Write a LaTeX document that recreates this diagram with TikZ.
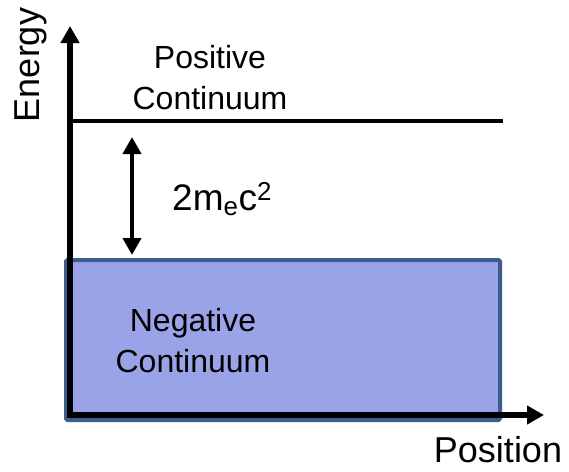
\documentclass[tikz,border=0pt]{standalone}
\usepackage{fontspec}
\setmainfont{Liberation Sans}
\usetikzlibrary{arrows.meta}
\definecolor{negfill}{RGB}{154,163,232}
\definecolor{negedge}{RGB}{60,94,140}

\begin{document}
\begin{tikzpicture}[x=1pt,y=-1pt,
  lbl/.style={font=\fontsize{32}{41}\selectfont,align=center,inner sep=0pt},
  axlbl/.style={font=\fontsize{36}{40}\selectfont,inner sep=0pt},
  tip/.style={-{Triangle[length=17pt,width=18pt]}}]
 \useasboundingbox (0,0) rectangle (569,471);
 \coordinate (o) at (70,415); \coordinate (ytip) at (70,26); \coordinate (xtip) at (544,415);
 \coordinate (pl) at (70,121); \coordinate (pr) at (503,121);
 \coordinate (gtop) at (132,137); \coordinate (gbot) at (132,255);
 % negative continuum block
 \filldraw[fill=negfill,draw=negedge,line width=4pt,rounded corners=1.5pt] (66,260) rectangle (500,420);
 \node[lbl] (neg) at (193,341) {Negative\\Continuum};
 % positive continuum edge and gap
 \draw[line width=3.5pt] (pl) -- (pr);
 \node[lbl] (pos) at (210,78) {Positive\\Continuum};
 \draw[line width=4pt,{Triangle[length=17pt,width=18pt]}-{Triangle[length=17pt,width=18pt]}] (gtop) -- (gbot);
 \node[lbl,font=\fontsize{37}{41}\selectfont,anchor=base west] (gap) at (172,210) {2m\textsubscript{e}c\textsuperscript{2}};
 % axes
 \draw[line width=5.5pt,{Triangle[length=17pt,width=18pt]}-{Triangle[length=17pt,width=18pt]}] (ytip) -- (o) -- (xtip);
 \node[axlbl,rotate=90] (en) at (31,65) {Energy};
 \node[axlbl] (posn) at (498,450) {Position};
\end{tikzpicture}
\end{document}
